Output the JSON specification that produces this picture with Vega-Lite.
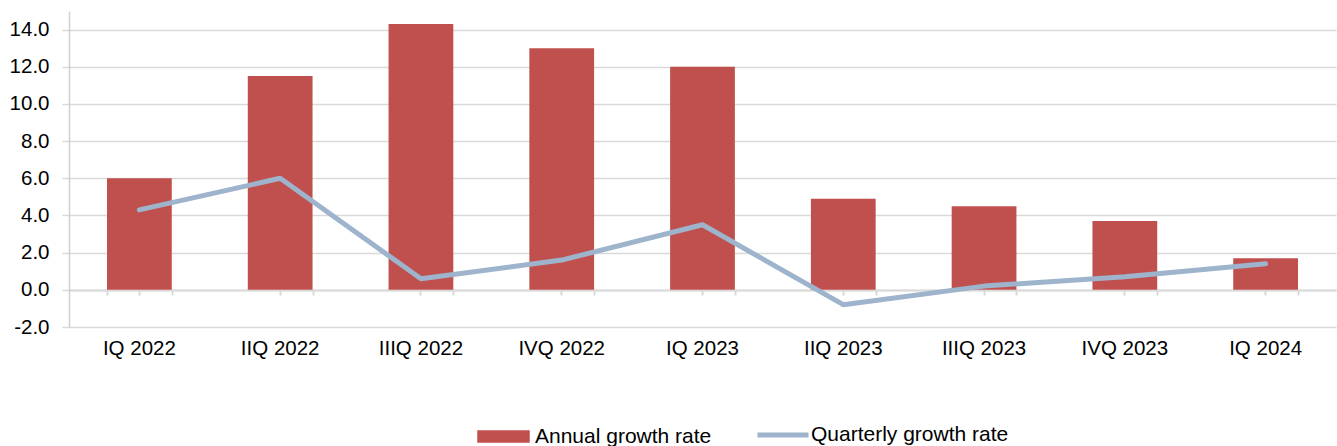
{
  "$schema": "https://vega.github.io/schema/vega-lite/v6.json",
  "width": 1267,
  "height": 316,
  "autosize": {"type": "none"},
  "padding": {"left": 69, "top": 11, "right": 1, "bottom": 119},
  "config": {
    "view": {"stroke": null},
    "font": "Liberation Sans",
    "legend": {"labelFont": "Liberation Sans", "labelFontSize": 21, "labelColor": "#000000", "padding": 0, "labelLimit": 500},
    "axisY": {"labelOverlap": false, "labelFontSize": 20.5, "labelColor": "#000000", "labelFont": "Liberation Sans"}
  },
  "data": {
    "values": [
      {"q": "IQ 2022", "annual": 6.0, "quarterly": 4.3},
      {"q": "IIQ 2022", "annual": 11.5, "quarterly": 6.0},
      {"q": "IIIQ 2022", "annual": 14.3, "quarterly": 0.6},
      {"q": "IVQ 2022", "annual": 13.0, "quarterly": 1.6},
      {"q": "IQ 2023", "annual": 12.0, "quarterly": 3.5},
      {"q": "IIQ 2023", "annual": 4.9, "quarterly": -0.8},
      {"q": "IIIQ 2023", "annual": 4.5, "quarterly": 0.2},
      {"q": "IVQ 2023", "annual": 3.7, "quarterly": 0.7},
      {"q": "IQ 2024", "annual": 1.7, "quarterly": 1.4}
    ]
  },
  "layer": [
    {
      "mark": {"type": "bar"},
      "encoding": {
        "x": {
          "field": "q", "type": "nominal", "sort": null,
          "scale": {"paddingInner": 0.54, "paddingOuter": 0.27},
          "axis": {
            "orient": "bottom", "offset": -37, "title": null, "labelAngle": 0,
            "grid": false, "domain": true, "domainColor": "#d9d9d9", "domainWidth": 2,
            "ticks": true, "tickColor": "#d9d9d9", "tickSize": 5, "tickWidth": 2,
            "labelPadding": 43, "labelFontSize": 20.5, "labelColor": "#000000", "labelFont": "Liberation Sans",
            "labelOverlap": false
          }
        },
        "y": {
          "field": "annual", "type": "quantitative", "title": null,
          "scale": {"domain": [-2, 15], "nice": false, "zero": false},
          "axis": {
            "values": [-2, 0, 2, 4, 6, 8, 10, 12, 14], "format": ".1f",
            "labelExpr": "replace(datum.label, '\u2212', '-')",
            "grid": true, "gridColor": "#d9d9d9", "gridWidth": 1.5,
            "domain": true, "domainColor": "#d0d0d0", "domainWidth": 1.5,
            "ticks": true, "tickSize": 7, "tickColor": "#d9d9d9", "tickWidth": 1.5,
            "labelPadding": 13, "labelOverlap": false
          }
        },
        "fill": {
          "datum": "Annual growth rate",
          "scale": {"domain": ["Annual growth rate"], "range": ["#C0504D"]},
          "legend": {
            "title": null, "orient": "none", "legendX": 408, "legendY": 399,
            "symbolType": "M-1,-0.24H1V0.24H-1Z", "symbolSize": 2756,
            "symbolStrokeWidth": 0, "symbolOpacity": 1, "labelOffset": 5
          }
        }
      }
    },
    {
      "mark": {"type": "line", "strokeWidth": 5, "strokeCap": "round", "strokeJoin": "round"},
      "encoding": {
        "x": {
          "field": "q", "type": "nominal", "sort": null,
          "axis": {
            "orient": "bottom", "offset": -37, "title": null, "labels": false,
            "grid": false, "domain": false,
            "ticks": true, "tickBand": "extent", "tickColor": "#d9d9d9", "tickSize": 5, "tickWidth": 2
          }
        },
        "y": {
          "field": "quarterly", "type": "quantitative", "title": null,
          "axis": {
            "values": [-2, 0, 2, 4, 6, 8, 10, 12, 14], "format": ".1f",
            "labelExpr": "replace(datum.label, '\u2212', '-')",
            "grid": true, "gridColor": "#d9d9d9", "gridWidth": 1.5,
            "domain": true, "domainColor": "#d0d0d0", "domainWidth": 1.5,
            "ticks": true, "tickSize": 7, "tickColor": "#d9d9d9", "tickWidth": 1.5,
            "labelPadding": 13, "labelOverlap": false
          }
        },
        "stroke": {
          "datum": "Quarterly growth rate",
          "scale": {"domain": ["Quarterly growth rate"], "range": ["#9DB4CC"]},
          "legend": {
            "title": null, "orient": "none", "legendX": 686, "legendY": 396,
            "symbolType": "stroke", "symbolSize": 2601, "symbolStrokeWidth": 5,
            "labelOffset": 0
          }
        }
      }
    }
  ],
  "resolve": {"axis": {"x": "independent"}}
}
